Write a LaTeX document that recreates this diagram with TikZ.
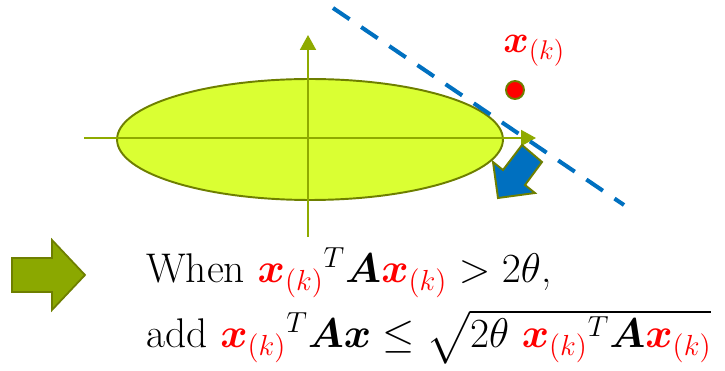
\documentclass[tikz,border=0pt]{standalone}
\usepackage{fix-cm}
\usepackage{amsmath,bm}
\usepackage{tikz}
\usetikzlibrary{positioning, arrows.meta, shapes.geometric}
\definecolor{limefill}{HTML}{DAFF33}
\definecolor{rimgreen}{HTML}{6E7F00}
\definecolor{axisgreen}{HTML}{8FAA00}
\definecolor{arrowgreen}{HTML}{8BA800}
\definecolor{tanblue}{HTML}{0070C0}
\newcommand{\xk}{{\color{red}\bm{x}_{(k)}}}

\begin{document}
\begin{tikzpicture}[x=0.02cm, y=-0.02cm,
  axis/.style={draw=axisgreen, line width=1.1pt, -{Triangle[length=3mm, width=3.2mm]}},
  rim/.style={draw=rimgreen, line width=1.1pt, line join=miter},
  eq/.style={anchor=base west, inner sep=0pt, font=\fontsize{23.6}{28}\selectfont}]
  \clip (0,0) rectangle (725,371);
  \node[ellipse, rim, fill=limefill, minimum width=7.72cm, minimum height=2.42cm,
        inner sep=0pt] (ell) at (310,139.5) {};
  \coordinate (hl) at (84,138);  \coordinate (hr) at (536,138);
  \coordinate (vb) at (308,237); \coordinate (vt) at (308,35);
  \draw[axis] (hl) -- (hr);
  \draw[axis] (vb) -- (vt);
  \coordinate (t1) at (333,8); \coordinate (t2) at (624,205);
  \draw[tanblue, line width=2.3pt, dash pattern=on 0.4cm off 0.28cm] (t1) -- (t2);
  \draw[rim, fill=tanblue] (498,198) -- (493,162) -- (503,170) -- (522,145)
    -- (542,162) -- (525,185) -- (535,193) -- cycle;
  \node[circle, rim, fill=red, minimum size=0.36cm, inner sep=0pt] (xk) at (515,90) {};
  \node[eq, text=red, font=\fontsize{22}{26}\selectfont] (xklabel) at (503,53) {$\bm{x}_{(k)}$};
  \draw[draw=rimgreen, fill=arrowgreen, line width=1pt, line join=miter]
    (12,258) -- (52,258) -- (52,240) -- (85,275) -- (52,310) -- (52,292) -- (12,292) -- cycle;
  \node[eq] (when) at (146,283) {When ${\xk}^T\bm{A}\xk > 2\theta$,};
  \node[eq] (add) at (146,348) {add ${\xk}^T\bm{A}\bm{x} \le \sqrt{2\theta\ {\xk}^T\bm{A}\xk}$};
\end{tikzpicture}
\end{document}
